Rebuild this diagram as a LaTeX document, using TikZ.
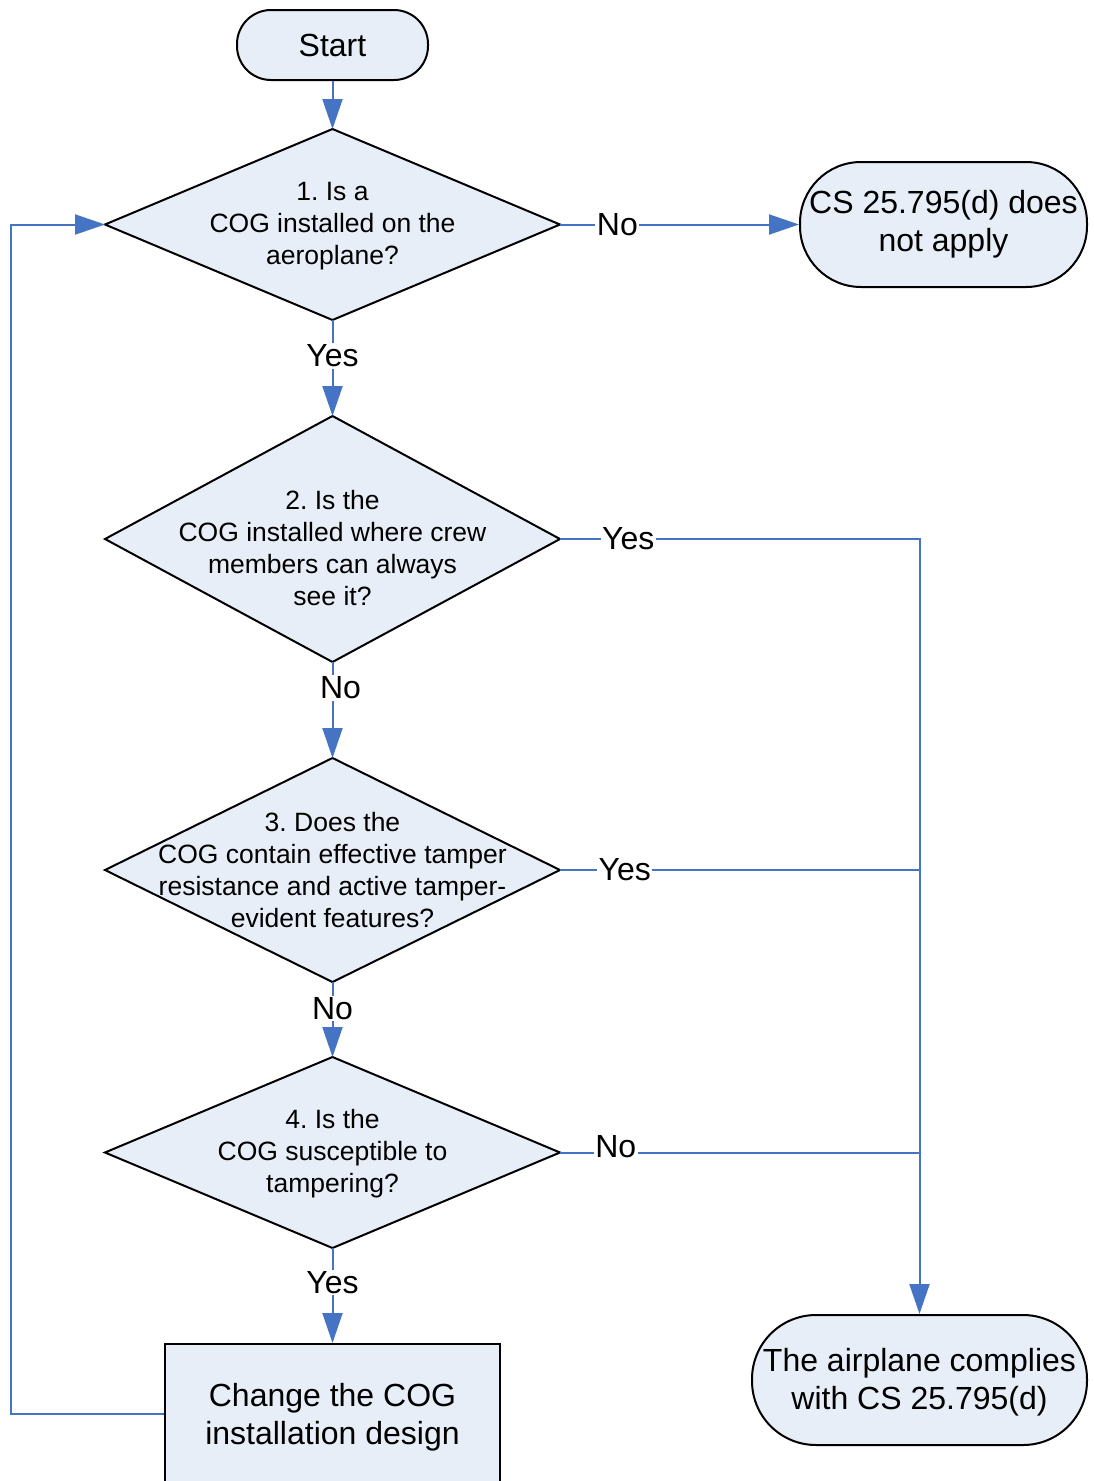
\documentclass[tikz,border=0pt]{standalone}
\usepackage{fontspec}
\setmainfont{Liberation Sans}
\usetikzlibrary{shapes.geometric,arrows.meta}
\definecolor{shfill}{RGB}{232,238,247}
\definecolor{ln}{RGB}{70,116,196}
\frenchspacing
\begin{document}
\begin{tikzpicture}[x=1pt,y=-1pt,
 box/.style={draw=black,line width=2pt,fill=shfill,inner sep=0pt,align=center,font=\fontsize{32}{38}\selectfont},
 stad/.style={box,rounded corners=#1},
 dia/.style={diamond,draw=black,line width=2pt,fill=shfill,inner sep=0pt,outer sep=0pt,minimum width=455pt},
 dtxt/.style={align=center,font=\fontsize{26.5}{32}\selectfont,inner sep=0pt},
 conn/.style={draw=ln,line width=2pt,-{Triangle[length=30pt,width=20pt]}},
 wire/.style={draw=ln,line width=2pt},
 lbl/.style={fill=white,inner sep=1.5pt,font=\fontsize{32}{36}\selectfont}]
\clip (0,0) rectangle (1094,1481);
\fill[white] (0,0) rectangle (1094,1481);

% shapes
\node[stad=34pt,minimum width=191pt,minimum height=70pt] (start) at (332.5,45) {Start};
\node[dia,minimum height=191pt] (d1) at (332.5,224.5) {};
\node[dtxt,yshift=-2pt] (d1t) at (d1) {1. Is a\\COG installed on the\\aeroplane?};
\node[stad=61pt,minimum width=287pt,minimum height=125pt] (cs) at (943.5,224.5) {CS 25.795(d) does\\not apply};
\node[dia,minimum height=246pt] (d2) at (332.5,539) {};
\node[dtxt,yshift=-9pt] (d2t) at (d2) {2. Is the\\COG installed where crew\\members can always\\see it?};
\node[dia,minimum height=224pt] (d3) at (332.5,870) {};
\node[dtxt] (d3t) at (d3) {3. Does the\\COG contain effective tamper\\resistance and active tamper-\\evident features?};
\node[dia,minimum height=191pt] (d4) at (332.5,1152.5) {};
\node[dtxt,yshift=-1pt] (d4t) at (d4) {4. Is the\\COG susceptible to\\tampering?};
\node[box,minimum width=335pt,minimum height=140pt] (chg) at (332.5,1414) {};
\node[align=center,font=\fontsize{32}{38}\selectfont,inner sep=0pt,yshift=-3pt] (chgt) at (chg) {Change the COG\\installation design};
\node[stad=64pt,minimum width=335pt,minimum height=130pt] (comp) at (919.5,1380) {};
\node[align=center,font=\fontsize{32}{38}\selectfont,inner sep=0pt,yshift=-2pt] (compt) at (comp) {The airplane complies\\with CS 25.795(d)};
\coordinate (lx) at (11,0);

% connectors
\draw[conn] (start) -- (d1.north);
\draw[conn] (d1.east) -- node[lbl,pos=0.24]{No} (cs.west);
\draw[conn] (d1.south) -- node[lbl,pos=0.375]{Yes} (d2.north);
\draw[conn] (d2.east) -- node[lbl,pos=0.19]{Yes} (d2.east -| comp.north) -- (comp.north);
\draw[wire] (d3.east) -- node[lbl,pos=0.18]{Yes} (d3.east -| comp.north);
\draw[wire] (d4.east) -- node[lbl,pos=0.155,yshift=6pt]{No} (d4.east -| comp.north);
\draw[conn] (d2.south) -- node[lbl,pos=0.27,xshift=8pt]{No} (d3.north);
\draw[conn] (d3.south) -- node[lbl,pos=0.35]{No} (d4.north);
\draw[conn] (d4.south) -- node[lbl,pos=0.36]{Yes} (chg.north);
\draw[conn] (chg.west) -- (chg.west -| lx) -- (lx |- d1.west) -- (d1.west);
\end{tikzpicture}
\end{document}
